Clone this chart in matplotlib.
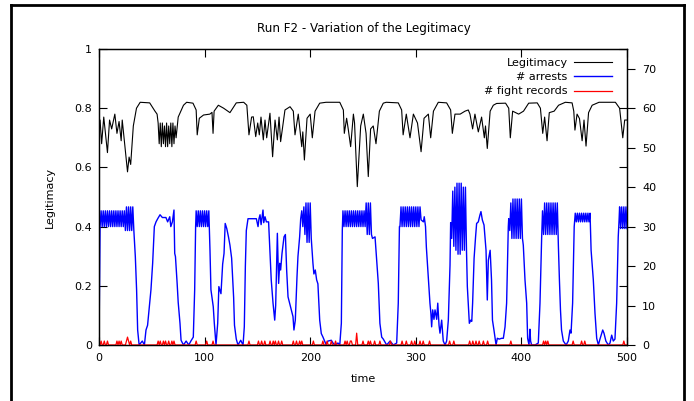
import matplotlib
matplotlib.use("Agg")
import matplotlib.pyplot as plt
from matplotlib.lines import Line2D
import numpy as np

# Legitimacy (left axis) as (time, value) vertices
legit = [
    (0, 0.75), (1, 0.76), (2.5, 0.68), (4.5, 0.77), (8, 0.65), (10, 0.76), (12, 0.73),
    (15, 0.78), (17, 0.715), (19, 0.755), (21, 0.69), (22, 0.76), (24, 0.69), (27, 0.585),
    (28.5, 0.635), (30, 0.61), (32.5, 0.74), (35.5, 0.80), (39, 0.82), (48, 0.818),
    (53, 0.79), (55, 0.78),
    (56, 0.75), (57, 0.68), (58, 0.75), (59, 0.67), (60, 0.75), (61, 0.68), (62, 0.74),
    (63, 0.67), (64, 0.75), (65, 0.67), (66, 0.74), (67, 0.68), (68, 0.75), (69, 0.67),
    (70, 0.75), (71, 0.68), (72, 0.74), (73, 0.70),
    (75, 0.77), (80, 0.81), (83, 0.82), (89, 0.817), (92, 0.794), (93, 0.71), (95, 0.766),
    (99, 0.777), (105, 0.78), (107, 0.786), (108, 0.715), (109, 0.79), (113, 0.81),
    (118, 0.80), (124, 0.785), (130, 0.818), (137, 0.82), (140, 0.81), (142, 0.71),
    (144.5, 0.77), (146.1, 0.771), (148.4, 0.704), (150.3, 0.75), (151.8, 0.71),
    (153.4, 0.77), (155.6, 0.693), (157.2, 0.76), (158.8, 0.70), (161.9, 0.783),
    (164.4, 0.636), (166.7, 0.76), (168.9, 0.693), (170.5, 0.77), (172, 0.687),
    (176.1, 0.794), (180.9, 0.805), (184, 0.79), (185.6, 0.71), (188.7, 0.78),
    (192, 0.67), (193, 0.72), (194.5, 0.625), (197, 0.766), (200, 0.78), (202, 0.70),
    (204.6, 0.79), (209, 0.817), (215, 0.82), (228, 0.82), (231.4, 0.794), (232.3, 0.715),
    (234.5, 0.766), (236, 0.73), (238.3, 0.67), (240.9, 0.78), (242, 0.75), (244.6, 0.535),
    (247.8, 0.74), (250.3, 0.78), (252.9, 0.715), (255, 0.569), (257.2, 0.73),
    (259.7, 0.74), (262.3, 0.68), (265.5, 0.79), (269.2, 0.817), (272, 0.82),
    (283.4, 0.818), (286.6, 0.794), (288, 0.71), (291, 0.78), (294.5, 0.70), (297.7, 0.78),
    (301.6, 0.75), (305, 0.653), (307.8, 0.766), (311.9, 0.78), (314.1, 0.70),
    (316.7, 0.79), (321.3, 0.82), (329.2, 0.818), (333, 0.794), (334.6, 0.715),
    (337.1, 0.78), (342, 0.78), (346.6, 0.79), (349.7, 0.794), (351.3, 0.78),
    (353.8, 0.73), (356, 0.78), (359.2, 0.72), (362.3, 0.77), (364.9, 0.70), (366, 0.74),
    (367.7, 0.664), (370.4, 0.79), (373.4, 0.81), (376.5, 0.816), (385, 0.817),
    (388, 0.80), (389.5, 0.70), (391.7, 0.79), (397.4, 0.78), (402, 0.79), (406.9, 0.817),
    (415, 0.818), (418, 0.80), (420.2, 0.715), (422, 0.77), (424.3, 0.69), (426.4, 0.785),
    (431, 0.79), (435.2, 0.81), (441.6, 0.82), (448, 0.818), (449.6, 0.79),
    (450.7, 0.726), (452.7, 0.78), (455, 0.765), (457.5, 0.69), (459.3, 0.76),
    (461.2, 0.672), (463.6, 0.785), (467, 0.81), (473.5, 0.82), (489, 0.82), (493, 0.80),
    (496, 0.70), (497.8, 0.76), (500, 0.76),
]

# number of arrests (right axis) as (time, value) vertices
arrests = [
    (0, 0), (1, 30),
    (2, 34), (3, 30), (4, 34), (5, 30), (6, 34), (7, 30), (8, 34), (9, 30), (10, 34),
    (11, 30), (12, 34), (13, 30), (14, 34), (15, 30), (16, 34), (17, 30), (18, 34),
    (19, 30), (20, 34), (21, 30), (22, 34), (23, 30), (24, 34), (25, 29), (26, 35),
    (27, 29), (28, 35), (29, 29), (30, 35), (31, 29), (32, 35), (33, 29),
    (34.4, 22.4), (35.6, 14), (36.6, 3.8), (38, 0), (41, 1), (43, 0), (44.5, 3.8),
    (46, 5), (47.7, 9.7), (49.2, 14), (50.8, 20.7), (52.4, 30), (54, 31.2), (55.6, 32),
    (57.8, 33), (60, 32.3), (63.4, 32.3), (65, 31.2), (67, 32.5), (68, 30), (69.5, 31.2),
    (71, 34.2), (71.7, 23.2), (72.4, 22.4), (74, 15.6), (75, 10.8), (76.7, 5.5),
    (77.7, 1.2), (80, 0), (82.5, 1), (85, 0), (87, 1), (89.3, 2), (90.6, 14), (91.5, 30),
    (92, 34), (93, 30), (94, 34), (95, 30), (96, 34), (97, 30), (98, 34), (99, 30),
    (100, 34), (101, 30), (102, 34), (103, 30), (104, 34),
    (105.1, 24), (106, 14), (107, 12), (108.2, 9.7), (109.2, 5.5), (110.8, 0),
    (112.4, 5.5), (113.5, 14.8), (115.5, 13), (117.1, 20.5), (118.4, 23.2), (119.5, 30.8),
    (121, 29.5), (122.6, 27.4), (124, 25.3), (125.6, 22), (126.6, 17), (127.5, 12),
    (128.3, 5), (130, 1.5), (131.6, 0), (134.2, 1.2), (136.4, 0), (137.6, 4.6),
    (138.6, 20), (139.5, 29), (141.1, 32), (149, 32), (150.6, 30), (151.5, 32),
    (152.5, 33), (153.5, 30.5), (155.3, 34.2), (156, 31), (157.2, 32.5), (158.5, 31.2),
    (160.6, 31.2), (162.2, 21.5), (163.1, 16.5), (164.8, 10.6), (166.4, 6.3), (167.3, 10),
    (168.9, 28.3), (170.1, 15.6), (171.1, 20.7), (172, 19), (173.3, 23.2), (175.2, 27.4),
    (176.5, 28), (177.7, 19), (179, 12.2), (180.5, 10.6), (182.1, 8.9), (183.7, 7.2),
    (184.6, 3.8), (185.9, 6.3), (187.5, 17.3), (188.4, 22.4), (190, 27.4), (191, 32),
    (192, 34), (193, 30), (194, 35), (195, 28), (196, 36), (197, 26), (198, 36), (199, 26),
    (200, 36), (201, 27),
    (202.6, 20.7), (203.5, 18), (204.8, 19), (206.1, 16.5), (207.3, 15.5), (209, 6.3),
    (210.5, 2.9), (212.1, 2), (213.7, 1), (215.2, 0), (216.8, 1), (220, 1.2),
    (221.6, 0.5), (223.2, 0), (226.3, 0.5), (228, 0), (229.5, 5.5), (230.4, 29),
    (231, 34), (232, 30), (233, 34), (234, 30), (235, 34), (236, 30), (237, 34), (238, 30),
    (239, 34), (240, 30), (241, 34), (242, 30), (243, 34), (244, 30), (245, 34), (246, 30),
    (247, 34), (248, 30), (249, 34), (250, 30), (251, 34), (252, 30), (253, 36), (254, 28),
    (255, 36), (256, 28), (257, 36), (258, 28),
    (259, 27), (261.4, 27.4), (263, 21.5), (264.5, 15.6), (266, 5.5), (267.7, 2),
    (269.2, 1.5), (272.4, 0), (275.6, 1), (278.7, 0), (281.9, 0.5), (283.4, 10.6),
    (284.5, 30),
    (285, 30), (286, 35), (287, 30), (288, 35), (289, 30), (290, 35), (291, 30), (292, 35),
    (293, 30), (294, 35), (295, 30), (296, 35), (297, 30), (298, 35), (299, 30), (300, 35),
    (301, 30), (302, 35), (303, 30), (304, 35),
    (305, 31.7), (307.2, 31.2), (308, 32.5), (309.2, 30), (310, 24.8), (311.8, 17.3),
    (313.4, 10.6), (314.3, 8), (315, 4.6), (316, 8.9), (317.2, 6.5), (318.2, 8.9),
    (319.8, 6.5), (320.8, 10.6), (322, 5), (322.9, 3), (324.5, 6.3), (326, 1), (327.7, 0),
    (329.2, 1), (330.8, 6.3), (331.8, 14.8), (332.4, 20.2),
    (333, 31), (334, 27), (335, 39), (336, 25), (337, 40), (338, 24), (339, 41), (340, 23),
    (341, 41), (342, 23), (343, 41), (344, 24), (345, 40), (346, 24), (347, 40), (348, 24),
    (348.8, 14.8), (349.7, 10.6), (350.7, 5.5), (352, 6.3), (353, 6), (353.8, 10.6),
    (355.2, 22), (356.6, 27.4), (357.6, 30.8), (359.2, 31.2), (360.7, 32.9),
    (361.7, 33.8), (363, 31.7), (364.6, 30.4), (366.5, 24), (367.7, 11.4), (368.7, 21.5),
    (370.4, 24), (371.7, 16.5), (372.6, 6.3), (374, 3.8), (376, 0), (377.2, 1.7),
    (379, 1.5), (381.3, 1.7), (382.9, 1.7), (384.5, 4.6), (386, 10.6), (387.6, 30),
    (388, 32), (389, 29), (390, 36), (391, 27), (392, 37), (393, 27), (394, 37), (395, 27),
    (396, 37), (397, 27), (398, 37), (399, 27), (400, 37), (401, 27),
    (401.8, 25.3), (403.4, 16.5), (405, 10.6), (405.9, 1.7), (407.2, 0), (408.1, 4),
    (408.7, 1), (409.7, 0), (412.9, 0), (416, 0.5), (417.6, 10.6), (419.2, 27.4),
    (420, 34), (421, 28), (422, 36), (423, 28), (424, 36), (425, 28), (426, 36), (427, 28),
    (428, 36), (429, 28), (430, 36), (431, 28), (432, 36), (433, 28), (434, 36),
    (435, 25.3), (436, 16.5), (437, 8.9), (438, 3.8), (439.7, 1), (442.3, 0), (444.4, 1),
    (446, 3.8), (447, 3), (448.5, 10.6), (450, 30),
    (451, 33.4), (452, 31.2), (453, 33.4), (454, 31.2), (455, 33.4), (456, 31.2),
    (457, 33.4), (458, 31.2), (459, 33.4), (460, 31.2), (461, 33.4), (462, 31.2),
    (463, 33.4), (464, 31.2), (465, 33.4),
    (466, 24), (468.1, 16.5), (469.7, 8), (471.3, 1.7), (472.9, 0), (474.4, 1.5),
    (477, 3.8), (478.2, 3), (480, 1), (482.3, 0), (483.9, 0.5), (485.5, 2.5), (487, 1),
    (488.6, 1.5), (490.2, 10.6), (491.7, 27.4), (492.5, 31.7),
    (493, 35), (494, 29.5), (495, 35), (496, 29.5), (497, 35), (498, 29.5), (499, 35),
    (500, 29.5),
]

# fight records: times with a non-zero count and the count there (zero elsewhere)
fight_t = [2, 5, 8, 17, 19, 21, 26, 27, 28, 30, 56, 58, 61, 63, 66, 69, 71, 92, 102, 108,
           142, 151, 154, 157, 162, 165, 167, 170, 173, 184, 187, 190, 192, 203, 212, 216,
           220, 224, 233, 235, 238, 239, 244, 250, 255, 257, 261, 266, 276, 287, 291, 296,
           299, 304, 307, 313, 332, 336, 351, 354, 357, 360, 364, 368, 390, 421, 423, 425,
           449, 457, 460, 497]
fight_v = [1, 1, 1, 1, 1, 1, 1, 2, 1, 1, 1, 1, 1, 1, 1, 1, 1, 1, 1, 1,
           1, 1, 1, 1, 1, 1, 1, 1, 1, 1, 1, 1, 1, 1, 1, 1,
           1, 1, 1, 1, 1, 1, 3, 1, 1, 1, 1, 1, 1, 1, 1, 1,
           1, 1, 1, 1, 1, 1, 1, 1, 1, 1, 1, 1, 1, 1, 1, 1,
           1, 1, 1, 1]

steps = np.arange(0, 501)
fights = np.zeros(len(steps))
fights[fight_t] = fight_v

lt, lv = zip(*legit)
at, av = zip(*arrests)

fig = plt.figure(figsize=(6.94, 4.01), dpi=100)
ax = fig.add_axes([99 / 694, 1 - 345 / 401, 528 / 694, 296 / 401])
ax2 = ax.twinx()

l1, = ax.plot(lt, lv, color='black', lw=0.8, label='Legitimacy')
l2, = ax2.plot(at, av, color='#0000ff', lw=1.0, label='# arrests')
l3, = ax2.plot(steps, fights, color='#ff0000', lw=0.9, label='# fight records')

ax.set_xlim(0, 500)
ax.set_ylim(0, 1)
ax2.set_ylim(0, 75)
ax.set_xticks([0, 100, 200, 300, 400, 500])
ax.set_yticks([0, 0.2, 0.4, 0.6, 0.8, 1])
ax.set_yticklabels(['0', '0.2', '0.4', '0.6', '0.8', '1'])
ax2.set_yticks([0, 10, 20, 30, 40, 50, 60, 70])

ax.tick_params(axis='both', direction='in', length=6, width=0.8, labelsize=8,
               top=True, right=True, pad=5)
ax.tick_params(axis='x', pad=6)
ax2.tick_params(axis='y', direction='out', length=6, width=0.8, labelsize=8, pad=5)
for a in (ax, ax2):
    for s in a.spines.values():
        s.set_linewidth(0.9)

ax.set_xlabel('time', fontsize=8, labelpad=8)
ax.set_ylabel('Legitimacy', fontsize=8, labelpad=14)
fig.text(0.524, 0.93, 'Run F2 - Variation of the Legitimacy', ha='center', va='center',
         fontsize=8.6)

leg = ax2.legend(handles=[l1, l2, l3], loc='upper right',
                 bbox_to_anchor=(612 / 694, 1 - 58 / 401), bbox_transform=fig.transFigure,
                 frameon=False, markerfirst=False, fontsize=8, handlelength=3.4,
                 handletextpad=0.6, labelspacing=0.38, borderaxespad=0, borderpad=0)
for t in leg.get_texts():
    t.set_ha('right')

# outer frame of the picture
fig.add_artist(Line2D([11 / 694, 11 / 694], [0, 1 - 5 / 401], color='black', lw=2))
fig.add_artist(Line2D([11 / 694, 684 / 694], [1 - 5 / 401, 1 - 5 / 401], color='black', lw=2))
fig.add_artist(Line2D([684 / 694, 684 / 694], [0, 1 - 5 / 401], color='black', lw=2))

fig.savefig('out.png', dpi=100)
